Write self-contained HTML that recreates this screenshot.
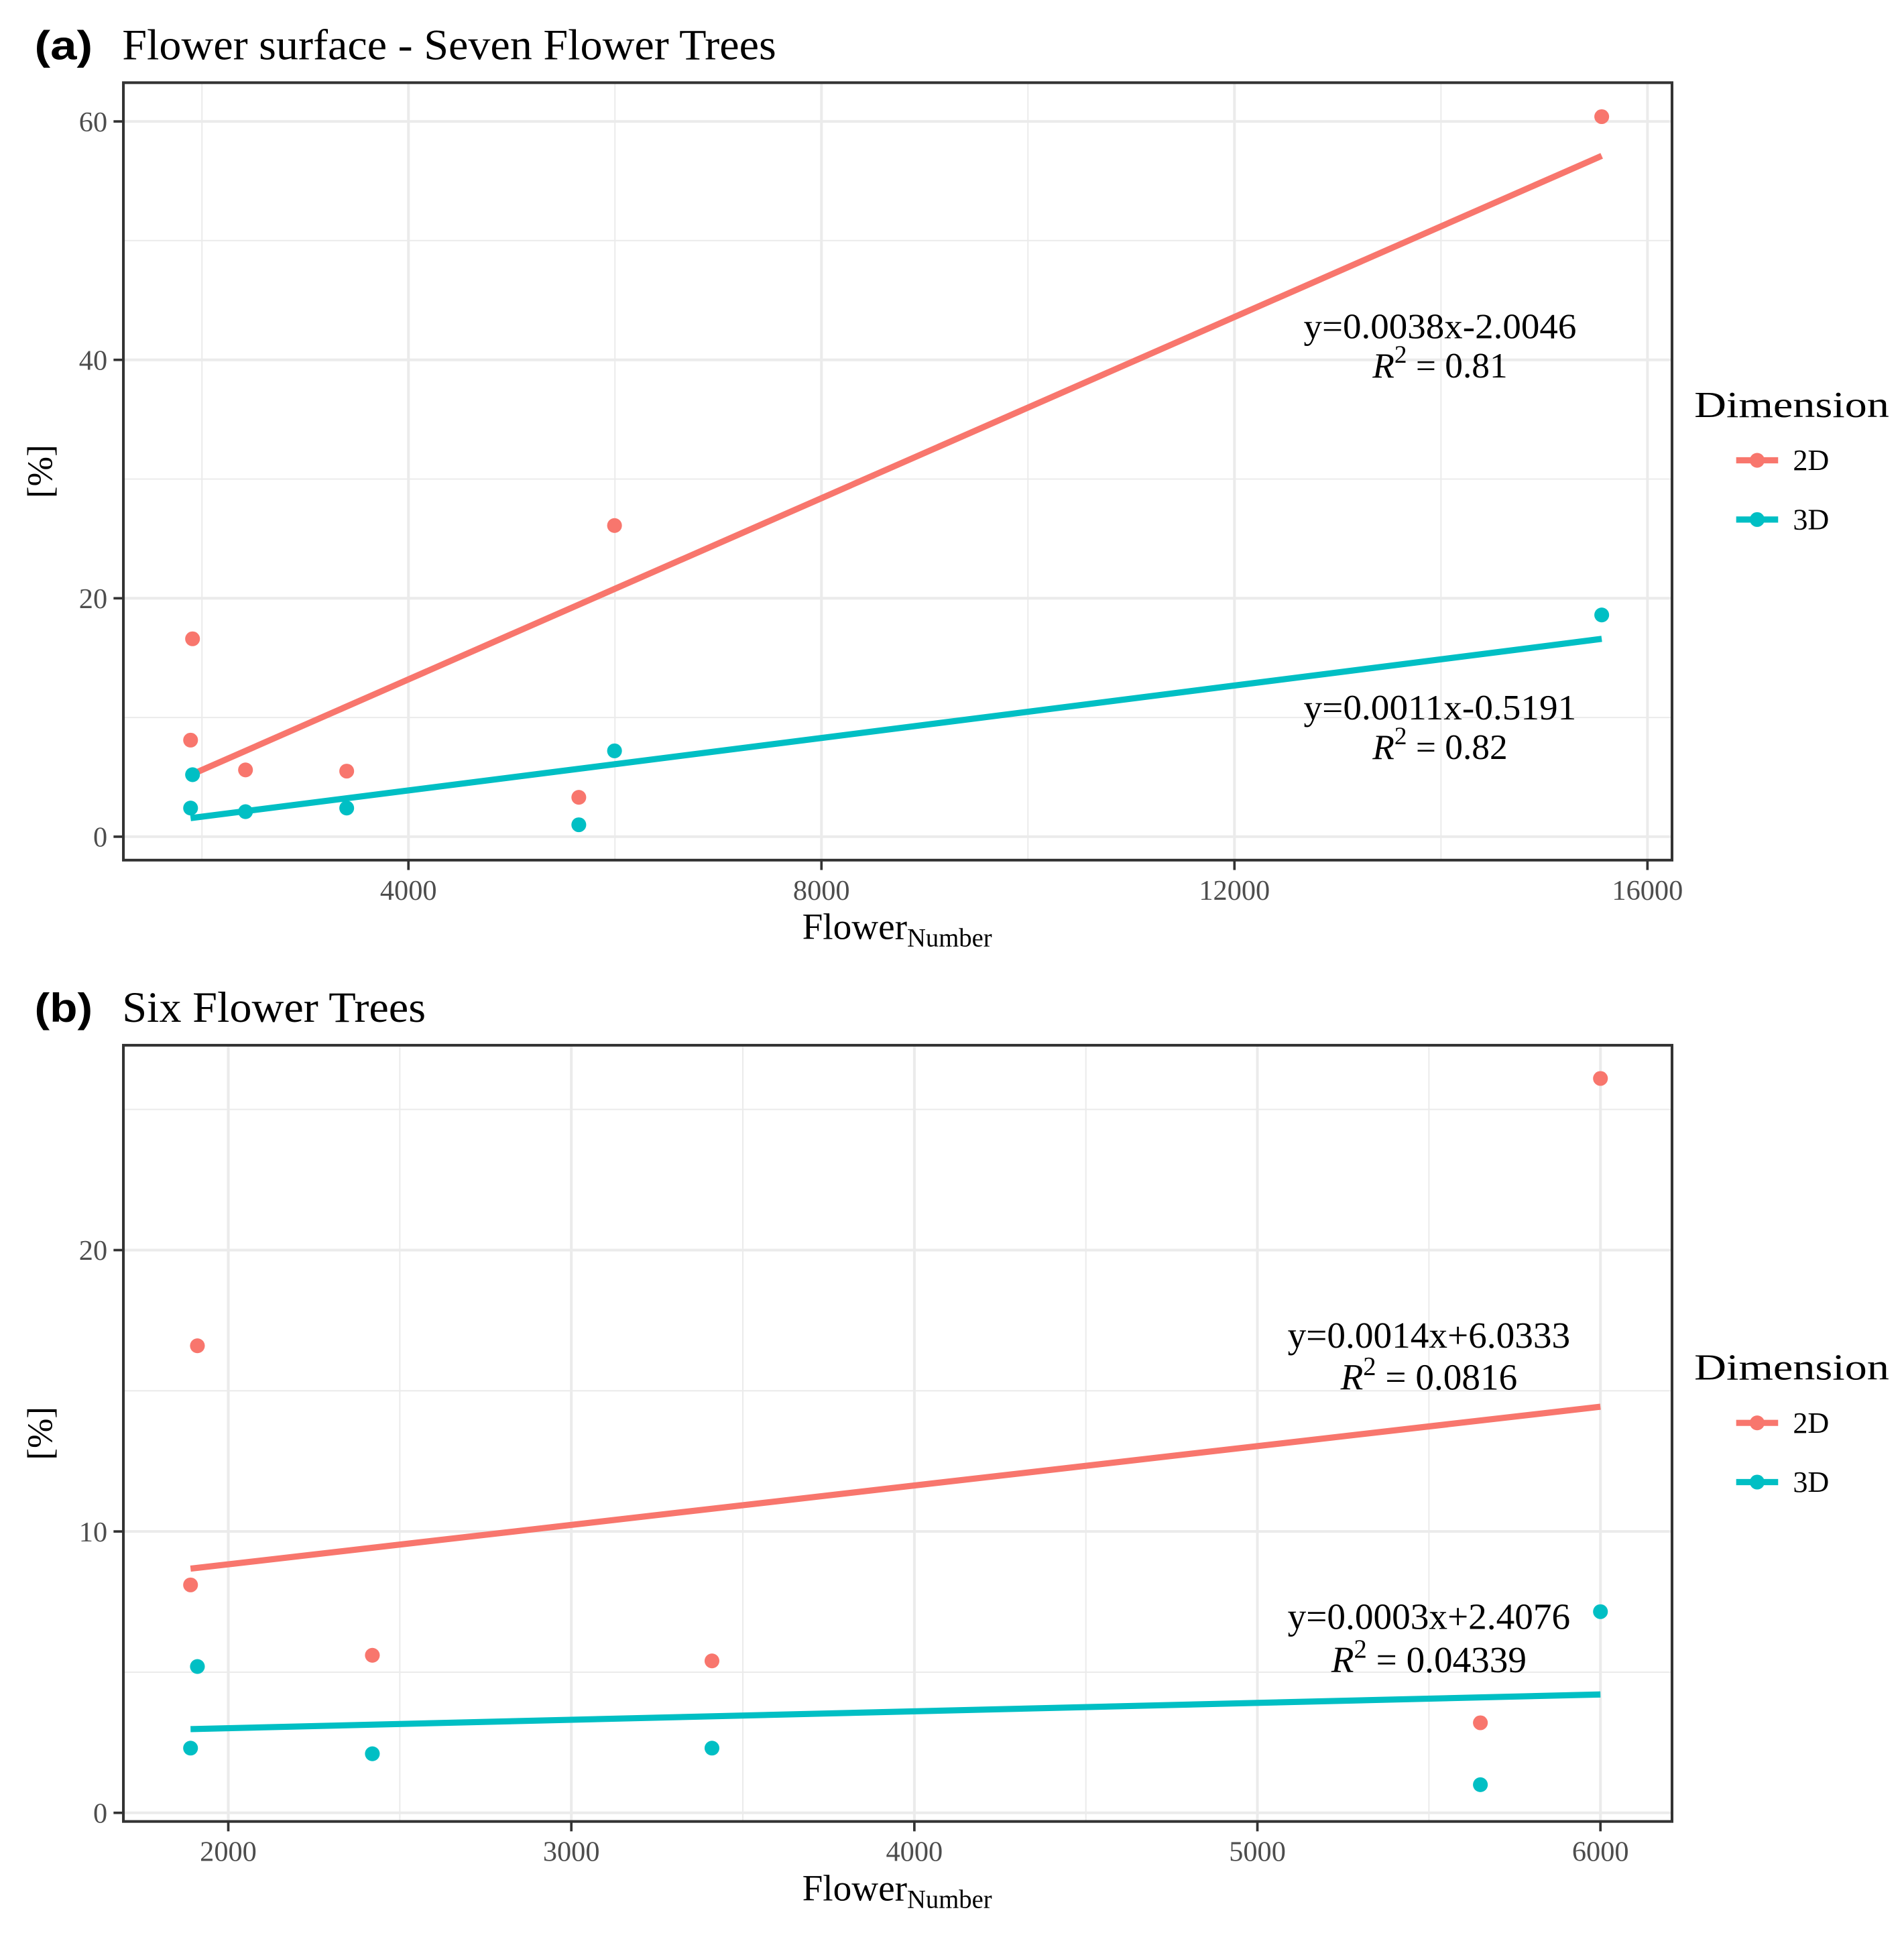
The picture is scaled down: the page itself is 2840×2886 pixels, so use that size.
<!DOCTYPE html>
<html><head><meta charset="utf-8"><style>
html,body{margin:0;padding:0;background:#fff}
svg{display:block}
text{font-family:"Liberation Serif",serif}
</style></head><body>
<svg id="chart" xmlns="http://www.w3.org/2000/svg" width="2840" height="2886" viewBox="0 0 1543 1568" preserveAspectRatio="none"></svg>
<script>
// Panel (a) data
const aX2D = [1909, 1890, 2422, 3402, 5650, 5996, 15557];
const aY2D = [16.6, 8.1, 5.6, 5.5, 3.3, 26.1, 60.4];
const aX3D = [1909, 1890, 2422, 3402, 5650, 5996, 15557];
const aY3D = [5.2, 2.4, 2.1, 2.4, 1.0, 7.2, 18.6];
const aFit2D = [0.0038, -2.0046];
const aFit3D = [0.0011, -0.5191];
const aXTicks = [4000, 8000, 12000, 16000];
const aYTicks = [0, 20, 40, 60];
// Panel (b) data
const bX2D = [1910, 1890, 2420, 3410, 5650, 6000];
const bY2D = [16.6, 8.1, 5.6, 5.4, 3.2, 26.1];
const bX3D = [1910, 1890, 2420, 3410, 5650, 6000];
const bY3D = [5.2, 2.3, 2.1, 2.3, 1.0, 7.15];
const bFit2D = [0.0014, 6.0333];
const bFit3D = [0.0003, 2.4076];
const bXTicks = [2000, 3000, 4000, 5000, 6000];
const bYTicks = [0, 10, 20];

const NS = "http://www.w3.org/2000/svg";
const svg = document.getElementById('chart');
const C2 = '#F8766D', C3 = '#00BFC4';
function el(tag, attrs, parent, txt) {
  const e = document.createElementNS(NS, tag);
  for (const k in attrs) e.setAttribute(k, attrs[k]);
  if (txt !== undefined) e.textContent = txt;
  (parent || svg).appendChild(e);
  return e;
}

function panel(cfg) {
  const g = el('g', {});
  
  
  const L = 100, R = 1355, T = cfg.top, B = cfg.bottom;
  const sx = v => cfg.x0p + (v - cfg.x0) * cfg.xs;
  const sy = v => cfg.y0p - v * cfg.ys;
  cfg.xMinor.forEach(v => { const l = el('line', {x1: sx(v), x2: sx(v), y1: T, y2: B, stroke: '#EBEBEB', 'stroke-width': 1.1}, g);   });
  cfg.yMinor.forEach(v => { const l = el('line', {x1: L, x2: R, y1: sy(v), y2: sy(v), stroke: '#EBEBEB', 'stroke-width': 1.1}, g);   });
  cfg.xTicks.forEach(v => {
    const l = el('line', {x1: sx(v), x2: sx(v), y1: T, y2: B, stroke: '#EBEBEB', 'stroke-width': 2.2}, g);
     
    el('line', {x1: sx(v), x2: sx(v), y1: B, y2: B + 8, stroke: '#333', 'stroke-width': 2}, g);
    const t = el('text', {x: sx(v), y: B + 32, 'text-anchor': 'middle', 'font-size': 23, fill: '#4D4D4D'}, g, v);
     
  });
  cfg.yTicks.forEach(v => {
    const l = el('line', {x1: L, x2: R, y1: sy(v), y2: sy(v), stroke: '#EBEBEB', 'stroke-width': 2.2}, g);
     
    el('line', {x1: L - 8, x2: L, y1: sy(v), y2: sy(v), stroke: '#333', 'stroke-width': 2}, g);
    const t = el('text', {x: L - 13, y: sy(v) + 8, 'text-anchor': 'end', 'font-size': 23, fill: '#4D4D4D'}, g, v);
     
  });
  [[cfg.fit2, C2, cfg.x2, 'fit-line-2d'], [cfg.fit3, C3, cfg.x3, 'fit-line-3d']].forEach(([f, c, xs, n]) => {
    const xmin = Math.min(...xs), xmax = Math.max(...xs);
    const l = el('line', {x1: sx(xmin), y1: sy(f[0]*xmin + f[1]), x2: sx(xmax), y2: sy(f[0]*xmax + f[1]), stroke: c, 'stroke-width': 5}, g);
     
  });
  [[cfg.x2, cfg.y2, C2, 'point-2d'], [cfg.x3, cfg.y3, C3, 'point-3d']].forEach(([xs, ys, c, n]) => {
    xs.forEach((x, i) => {
      const p = el('circle', {cx: sx(x), cy: sy(ys[i]), r: 6, fill: c}, g);
       
    });
  });
  const bd = el('rect', {x: L, y: T, width: R - L, height: B - T, fill: 'none', stroke: '#333', 'stroke-width': 2.2}, g);
   
  const tg = el('text', {x: 28, y: cfg.titleY, 'font-size': 33, 'font-weight': 'bold', textLength: 47, lengthAdjust: 'spacingAndGlyphs', style: 'font-family:"Liberation Sans",sans-serif'}, g, cfg.tag);
   
  const tt = el('text', {x: 99, y: cfg.titleY, 'font-size': 35, textLength: cfg.titleLen, lengthAdjust: 'spacingAndGlyphs'}, g, cfg.title);
   
  const xt = el('text', {x: 727, y: B + 64, 'text-anchor': 'middle', 'font-size': 30}, g);
   
  el('tspan', {}, xt, 'Flower');
  el('tspan', {'font-size': 21, dy: 6}, xt, 'Number');
  const yt = el('text', {x: 0, y: 0, 'text-anchor': 'middle', 'font-size': 29, transform: `translate(42,${(T+B)/2}) rotate(-90)`}, g, '[%]');
   
  cfg.ann.forEach(a => {
    const e1 = el('text', {x: a.x, y: a.y, 'text-anchor': 'middle', 'font-size': a.fs, textLength: a.w, lengthAdjust: 'spacingAndGlyphs'}, g, a.eq);
     
    const e2 = el('text', {x: a.x, y: a.y + a.dy, 'text-anchor': 'middle', 'font-size': a.fs}, g);
     
    el('tspan', {'font-style': 'italic'}, e2, 'R');
    el('tspan', {'font-size': a.fs * 0.7, dy: -12}, e2, '2');
    el('tspan', {dy: 12}, e2, ' = ' + a.r2);
  });
  const lg = el('g', {}, g);
   
  const lt = el('text', {x: 1373, y: cfg.legY, 'font-size': 30, textLength: 158, lengthAdjust: 'spacingAndGlyphs'}, lg, 'Dimension');
   
  [['2D', C2, 35], ['3D', C3, 83]].forEach(([lab, c, off]) => {
    const eg = el('g', {}, lg);
     
    const yy = cfg.legY + off;
    el('line', {x1: 1407, x2: 1441, y1: yy, y2: yy, stroke: c, 'stroke-width': 5}, eg);
    el('circle', {cx: 1424, cy: yy, r: 6, fill: c}, eg);
    el('text', {x: 1453, y: yy + 8, 'font-size': 24}, eg, lab);
  });
}

panel({name: 'panel-a', tag: '(a)', title: 'Flower surface - Seven Flower Trees', titleLen: 530, titleY: 48,
  top: 67, bottom: 697, x0: 4000, x0p: 331, xs: 334.7/4000, y0p: 678, ys: 193.2/20,
  xTicks: aXTicks, yTicks: aYTicks, xMinor: [2000, 6000, 10000, 14000], yMinor: [10, 30, 50],
  x2: aX2D, y2: aY2D, x3: aX3D, y3: aY3D, fit2: aFit2D, fit3: aFit3D,
  ann: [{x: 1167, y: 274, dy: 32, fs: 29, w: 221, eq: 'y=0.0038x-2.0046', r2: '0.81'},
        {x: 1167, y: 583, dy: 32, fs: 29, w: 221, eq: 'y=0.0011x-0.5191', r2: '0.82'}],
  legY: 338});
panel({name: 'panel-b', tag: '(b)', title: 'Six Flower Trees', titleLen: 246, titleY: 828,
  top: 847, bottom: 1476, x0: 2000, x0p: 185, xs: 278/1000, y0p: 1469, ys: 22.8,
  xTicks: bXTicks, yTicks: bYTicks, xMinor: [2500, 3500, 4500, 5500], yMinor: [5, 15, 25],
  x2: bX2D, y2: bY2D, x3: bX3D, y3: bY3D, fit2: bFit2D, fit3: bFit3D,
  ann: [{x: 1158, y: 1092, dy: 34, fs: 30, w: 229, eq: 'y=0.0014x+6.0333', r2: '0.0816'},
        {x: 1158, y: 1320, dy: 35, fs: 30, w: 229, eq: 'y=0.0003x+2.4076', r2: '0.04339'}],
  legY: 1118});
</script>
</body></html>
